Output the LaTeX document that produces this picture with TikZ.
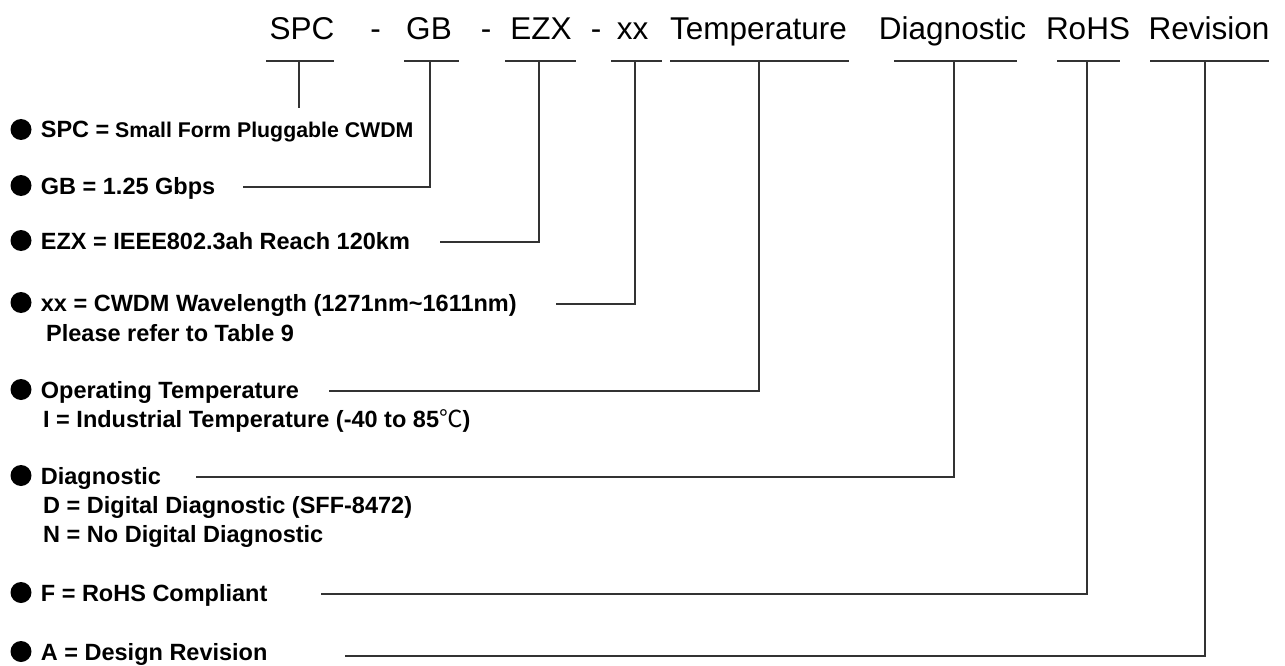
\documentclass[tikz,border=0pt]{standalone}
\usepackage{fontspec}
\setmainfont{Liberation Sans}
\newfontfamily\cjk{Noto Sans CJK SC}
\begin{document}
\begin{tikzpicture}[x=1pt,y=-1pt,
  hdr/.style={anchor=base,inner sep=0pt,font=\fontsize{31.5}{36}\selectfont},
  itm/.style={anchor=base west,inner sep=0pt,font=\fontsize{23.5}{28}\selectfont\bfseries},
  sml/.style={anchor=base west,inner sep=0pt,font=\fontsize{21.3}{25}\selectfont\bfseries},
  dot/.style={circle,fill=black,inner sep=0pt,minimum size=21pt},
  ln/.style={draw=black!80,line width=1.1pt}]
\useasboundingbox (0,0) rectangle (1285,666);
% header words
\node[hdr] (hSPC) at (302,39.5) {SPC};
\node[hdr] (d1) at (375.5,39.5) {-};
\node[hdr] (hGB) at (429,39.5) {GB};
\node[hdr] (d2) at (486,39.5) {-};
\node[hdr] (hEZX) at (541,39.5) {EZX};
\node[hdr] (d3) at (596,39.5) {-};
\node[hdr] (hxx) at (632.5,39.5) {xx};
\node[hdr] (hT) at (758.5,39.5) {Temperature};
\node[hdr] (hD) at (952.5,39.5) {Diagnostic};
\node[hdr] (hR) at (1088,39.5) {RoHS};
\node[hdr] (hV) at (1209,39.5) {Revision};
% underlines
\coordinate (uSPCa) at (266,61); \coordinate (uSPCb) at (334,61); \coordinate (uSPC) at (299,61);
\coordinate (uGBa) at (404,61); \coordinate (uGBb) at (459,61); \coordinate (uGB) at (430,61);
\coordinate (uEZXa) at (505,61); \coordinate (uEZXb) at (576,61); \coordinate (uEZX) at (539,61);
\coordinate (uxxa) at (611,61); \coordinate (uxxb) at (662,61); \coordinate (uxx) at (635,61);
\coordinate (uTa) at (670,61); \coordinate (uTb) at (849,61); \coordinate (uT) at (759,61);
\coordinate (uDa) at (894,61); \coordinate (uDb) at (1017,61); \coordinate (uD) at (954,61);
\coordinate (uRa) at (1057,61); \coordinate (uRb) at (1120,61); \coordinate (uR) at (1087,61);
\coordinate (uVa) at (1150,61); \coordinate (uVb) at (1269,61); \coordinate (uV) at (1205,61);
\foreach \n in {SPC,GB,EZX,xx,T,D,R,V}{\draw[ln] (u\n a) -- (u\n b);}
% items
\node[dot] (b1) at (21,129.5) {};
\node[itm] (tSPC) at (40.7,138) {SPC =};
\node[sml] (tSPCs) at (115,138) {Small Form Pluggable CWDM};
\node[dot] (b2) at (21,185.5) {};
\node[itm] (tGB) at (40.7,194) {GB = 1.25 Gbps};
\node[dot] (b3) at (21,240.5) {};
\node[itm] (tEZX) at (40.7,249) {EZX = IEEE802.3ah Reach 120km};
\node[dot] (b4) at (21,302.5) {};
\node[itm] (txx) at (40.7,311) {xx = CWDM Wavelength (1271nm\textasciitilde 1611nm)};
\node[itm] (txx2) at (46,341) {Please refer to Table 9};
\node[dot] (b5) at (21,389.5) {};
\node[itm] (tOp) at (40.7,398) {Operating Temperature};
\node[itm] (tOp2) at (43,427) {I = Industrial Temperature (-40 to 85{\cjk\mdseries ℃})};
\node[dot] (b6) at (21,475.5) {};
\node[itm] (tDg) at (40.7,484) {Diagnostic};
\node[itm] (tDg2) at (43,513) {D = Digital Diagnostic (SFF-8472)};
\node[itm] (tDg3) at (43,542) {N = No Digital Diagnostic};
\node[dot] (b7) at (21,592.5) {};
\node[itm] (tF) at (40.7,601) {F = RoHS Compliant};
\node[dot] (b8) at (21,651.5) {};
\node[itm] (tA) at (40.7,660) {A = Design Revision};
% connector free ends
\coordinate (eSPC) at (299,108);
\coordinate (eGB) at (243,187);
\coordinate (eEZX) at (440,242);
\coordinate (exx) at (556,304);
\coordinate (eT) at (329,391);
\coordinate (eD) at (196,477);
\coordinate (eR) at (321,594);
\coordinate (eV) at (345,656);
\draw[ln] (uSPC) -- (eSPC);
\draw[ln] (eGB) -| (uGB);
\draw[ln] (eEZX) -| (uEZX);
\draw[ln] (exx) -| (uxx);
\draw[ln] (eT) -| (uT);
\draw[ln] (eD) -| (uD);
\draw[ln] (eR) -| (uR);
\draw[ln] (eV) -| (uV);
\end{tikzpicture}
\end{document}
